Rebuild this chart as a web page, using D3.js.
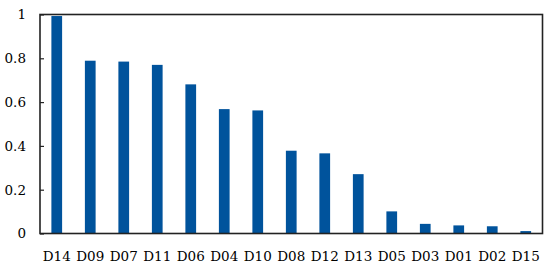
<!DOCTYPE html>
<html>
<head>
<meta charset="utf-8">
<script src="https://cdn.jsdelivr.net/npm/d3@7"></script>
<style>
  body { margin: 0; background: #fff; }
  text { font-family: "DejaVu Serif", "Liberation Serif", serif; }
</style>
</head>
<body>
<svg id="chart" width="550" height="267"></svg>
<script>
// 데이터
const categories = ["D14", "D09", "D07", "D11", "D06", "D04", "D10", "D08", "D12", "D13", "D05", "D03", "D01", "D02", "D15"];
const values = [0.993, 0.789, 0.785, 0.770, 0.681, 0.568, 0.562, 0.378, 0.366, 0.271, 0.101, 0.044, 0.037, 0.033, 0.011];
const yTicks = [0, 0.2, 0.4, 0.6, 0.8, 1];

const margin = {left: 40, right: 7.5, top: 14.5, bottom: 33.5};
const width = 550, height = 267;

const svg = d3.select("#chart");

const x = d3.scaleBand()
    .domain(categories)
    .range([margin.left, width - margin.right])
    .paddingInner(0.68)
    .paddingOuter(0.34);
const y = d3.scaleLinear()
    .domain([0, 1])
    .range([height - margin.bottom, margin.top]);

// 막대
svg.append("g").selectAll("rect")
    .data(categories)
    .join("rect")
    .attr("x", d => x(d))
    .attr("y", (d, i) => y(values[i]))
    .attr("width", x.bandwidth())
    .attr("height", (d, i) => y(0) - y(values[i]))
    .style("fill", "#00539c");

// 테두리
svg.append("rect")
    .attr("x", margin.left)
    .attr("y", margin.top)
    .attr("width", width - margin.right - margin.left)
    .attr("height", height - margin.bottom - margin.top)
    .style("fill", "none")
    .style("stroke", "#222")
    .style("stroke-width", 1.6);

// y 축
const yAxis = svg.append("g")
    .attr("transform", `translate(${margin.left},0)`)
    .call(d3.axisRight(y).tickValues(yTicks).tickSize(4).tickFormat(d3.format("~g")));
yAxis.select(".domain").remove();
yAxis.selectAll("line").style("stroke", "#222").style("stroke-width", 1.2);
yAxis.selectAll("text")
    .attr("x", -14)
    .attr("text-anchor", "end")
    .style("font-size", "13.5px")
    .style("fill", "#000");

// x 축 라벨
svg.append("g").selectAll("text")
    .data(categories)
    .join("text")
    .attr("x", d => x(d) + x.bandwidth() / 2)
    .attr("y", 261)
    .attr("text-anchor", "middle")
    .style("font-size", "13.5px")
    .style("fill", "#000")
    .text(d => d);
</script>
</body>
</html>
